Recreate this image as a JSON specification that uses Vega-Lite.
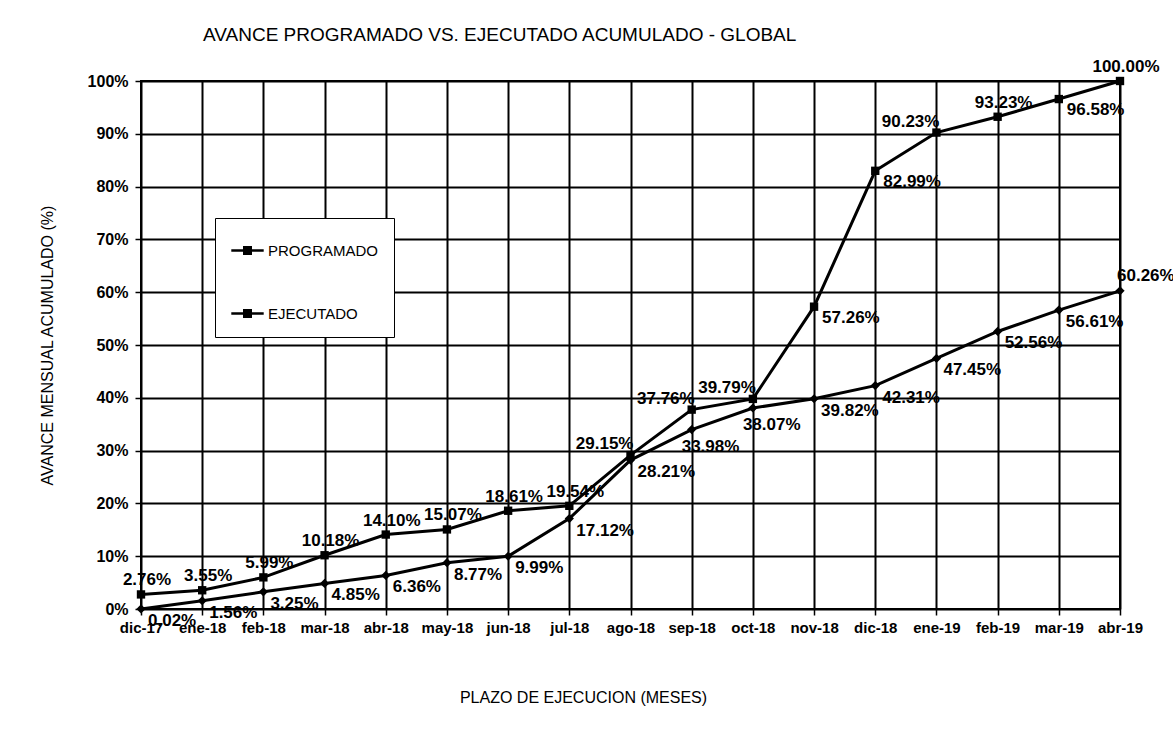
{
  "$schema": "https://vega.github.io/schema/vega-lite/v6.json",
  "width": 979,
  "height": 528,
  "autosize": {"type": "none"},
  "padding": {"left": 141, "top": 81, "right": 53, "bottom": 124},
  "background": "white",
  "title": {
    "text": "AVANCE PROGRAMADO VS. EJECUTADO ACUMULADO - GLOBAL",
    "anchor": "start",
    "frame": "group",
    "dx": 62,
    "offset": 13,
    "fontSize": 19,
    "fontWeight": "normal",
    "color": "black"
  },
  "data": {
    "values": [
      {"mes": "dic-17", "serie": "PROGRAMADO", "valor": 0.0276},
      {"mes": "ene-18", "serie": "PROGRAMADO", "valor": 0.0355},
      {"mes": "feb-18", "serie": "PROGRAMADO", "valor": 0.0599},
      {"mes": "mar-18", "serie": "PROGRAMADO", "valor": 0.1018},
      {"mes": "abr-18", "serie": "PROGRAMADO", "valor": 0.1410},
      {"mes": "may-18", "serie": "PROGRAMADO", "valor": 0.1507},
      {"mes": "jun-18", "serie": "PROGRAMADO", "valor": 0.1861},
      {"mes": "jul-18", "serie": "PROGRAMADO", "valor": 0.1954},
      {"mes": "ago-18", "serie": "PROGRAMADO", "valor": 0.2915},
      {"mes": "sep-18", "serie": "PROGRAMADO", "valor": 0.3776},
      {"mes": "oct-18", "serie": "PROGRAMADO", "valor": 0.3979},
      {"mes": "nov-18", "serie": "PROGRAMADO", "valor": 0.5726},
      {"mes": "dic-18", "serie": "PROGRAMADO", "valor": 0.8299},
      {"mes": "ene-19", "serie": "PROGRAMADO", "valor": 0.9023},
      {"mes": "feb-19", "serie": "PROGRAMADO", "valor": 0.9323},
      {"mes": "mar-19", "serie": "PROGRAMADO", "valor": 0.9658},
      {"mes": "abr-19", "serie": "PROGRAMADO", "valor": 1.0},
      {"mes": "dic-17", "serie": "EJECUTADO", "valor": 0.0002},
      {"mes": "ene-18", "serie": "EJECUTADO", "valor": 0.0156},
      {"mes": "feb-18", "serie": "EJECUTADO", "valor": 0.0325},
      {"mes": "mar-18", "serie": "EJECUTADO", "valor": 0.0485},
      {"mes": "abr-18", "serie": "EJECUTADO", "valor": 0.0636},
      {"mes": "may-18", "serie": "EJECUTADO", "valor": 0.0877},
      {"mes": "jun-18", "serie": "EJECUTADO", "valor": 0.0999},
      {"mes": "jul-18", "serie": "EJECUTADO", "valor": 0.1712},
      {"mes": "ago-18", "serie": "EJECUTADO", "valor": 0.2821},
      {"mes": "sep-18", "serie": "EJECUTADO", "valor": 0.3398},
      {"mes": "oct-18", "serie": "EJECUTADO", "valor": 0.3807},
      {"mes": "nov-18", "serie": "EJECUTADO", "valor": 0.3982},
      {"mes": "dic-18", "serie": "EJECUTADO", "valor": 0.4231},
      {"mes": "ene-19", "serie": "EJECUTADO", "valor": 0.4745},
      {"mes": "feb-19", "serie": "EJECUTADO", "valor": 0.5256},
      {"mes": "mar-19", "serie": "EJECUTADO", "valor": 0.5661},
      {"mes": "abr-19", "serie": "EJECUTADO", "valor": 0.6026}
    ]
  },
  "encoding": {
    "x": {
      "field": "mes",
      "type": "ordinal",
      "sort": ["dic-17", "ene-18", "feb-18", "mar-18", "abr-18", "may-18", "jun-18", "jul-18", "ago-18", "sep-18", "oct-18", "nov-18", "dic-18", "ene-19", "feb-19", "mar-19", "abr-19"],
      "scale": {"type": "point", "padding": 0},
      "axis": {
        "title": "PLAZO DE EJECUCION (MESES)",
        "titleX": 442,
        "titleY": 88,
        "titleAlign": "center",
        "titleBaseline": "middle",
        "titleFontSize": 16,
        "titleFontWeight": "normal",
        "labelAngle": 0,
        "labelFontSize": 15,
        "labelFontWeight": "bold",
        "labelPadding": 5,
        "tickSize": 6,
        "grid": true,
        "domain": false
      }
    },
    "y": {
      "field": "valor",
      "type": "quantitative",
      "scale": {"domain": [0, 1]},
      "axis": {
        "values": [0, 0.1, 0.2, 0.3, 0.4, 0.5, 0.6, 0.7, 0.8, 0.9, 1],
        "format": ".0%",
        "title": "AVANCE MENSUAL ACUMULADO (%)",
        "titleFontSize": 16,
        "titleFontWeight": "normal",
        "titlePadding": 32,
        "labelFontSize": 16,
        "labelFontWeight": "bold",
        "labelPadding": 7,
        "tickSize": 6,
        "grid": true,
        "domain": false
      }
    }
  },
  "layer": [
    {
      "mark": {"type": "line", "strokeWidth": 3},
      "encoding": {
        "color": {
          "field": "serie",
          "type": "nominal",
          "scale": {"domain": ["PROGRAMADO", "EJECUTADO"], "range": ["black", "black"]},
          "legend": {
            "orient": "none",
            "legendX": 74,
            "legendY": 137,
            "title": null,
            "strokeColor": "black",
            "fillColor": "white",
            "padding": 15,
            "rowPadding": 37,
            "symbolType": "M-1,0H1M-0.2,-0.2H0.2V0.2H-0.2Z",
            "symbolSize": 1050,
            "symbolStrokeWidth": 2.5,
            "symbolStrokeColor": "black",
            "symbolFillColor": "black",
            "labelFontSize": 15,
            "labelFontWeight": "normal",
            "labelOffset": 3,
            "labelColor": "black"
          }
        }
      }
    },
    {
      "transform": [{"filter": {"field": "serie", "equal": "PROGRAMADO"}}],
      "mark": {"type": "point", "shape": "square", "filled": true, "color": "black", "opacity": 1, "size": 70}
    },
    {
      "transform": [{"filter": {"field": "serie", "equal": "EJECUTADO"}}],
      "mark": {"type": "point", "shape": "diamond", "filled": true, "color": "black", "opacity": 1, "size": 85}
    },
    {
      "transform": [{"filter": {"and": [{"field": "serie", "equal": "PROGRAMADO"}, {"not": {"field": "mes", "oneOf": ["ago-18", "sep-18", "oct-18", "ene-19", "nov-18", "dic-18", "mar-19"]}}]}}],
      "mark": {"type": "text", "align": "center", "baseline": "middle", "dx": 6, "dy": -14, "fontSize": 17, "fontWeight": "bold", "color": "black"},
      "encoding": {"text": {"field": "valor", "format": ".2%"}}
    },
    {
      "transform": [{"filter": {"and": [{"field": "serie", "equal": "PROGRAMADO"}, {"field": "mes", "oneOf": ["ago-18", "sep-18", "oct-18", "ene-19"]}]}}],
      "mark": {"type": "text", "align": "right", "baseline": "middle", "dx": 3, "dy": -11, "fontSize": 17, "fontWeight": "bold", "color": "black"},
      "encoding": {"text": {"field": "valor", "format": ".2%"}}
    },
    {
      "transform": [{"filter": {"and": [{"field": "serie", "equal": "PROGRAMADO"}, {"field": "mes", "oneOf": ["nov-18", "dic-18", "mar-19"]}]}}],
      "mark": {"type": "text", "align": "left", "baseline": "middle", "dx": 8, "dy": 11, "fontSize": 17, "fontWeight": "bold", "color": "black"},
      "encoding": {"text": {"field": "valor", "format": ".2%"}}
    },
    {
      "transform": [{"filter": {"and": [{"field": "serie", "equal": "EJECUTADO"}, {"not": {"field": "mes", "oneOf": ["sep-18", "oct-18", "abr-19"]}}]}}],
      "mark": {"type": "text", "align": "left", "baseline": "middle", "dx": 7, "dy": 12, "fontSize": 17, "fontWeight": "bold", "color": "black"},
      "encoding": {"text": {"field": "valor", "format": ".2%"}}
    },
    {
      "transform": [{"filter": {"and": [{"field": "serie", "equal": "EJECUTADO"}, {"field": "mes", "oneOf": ["sep-18", "oct-18"]}]}}],
      "mark": {"type": "text", "align": "left", "baseline": "middle", "dx": -10, "dy": 17, "fontSize": 17, "fontWeight": "bold", "color": "black"},
      "encoding": {"text": {"field": "valor", "format": ".2%"}}
    },
    {
      "transform": [{"filter": {"and": [{"field": "serie", "equal": "EJECUTADO"}, {"field": "mes", "equal": "abr-19"}]}}],
      "mark": {"type": "text", "align": "left", "baseline": "middle", "dx": -3, "dy": -15, "fontSize": 17, "fontWeight": "bold", "color": "black"},
      "encoding": {"text": {"field": "valor", "format": ".2%"}}
    }
  ],
  "config": {
    "font": "Liberation Sans, Arial, sans-serif",
    "view": {"stroke": "black", "strokeWidth": 2},
    "axis": {
      "gridColor": "black",
      "gridWidth": 2,
      "gridOpacity": 1,
      "tickColor": "black",
      "tickWidth": 1.5,
      "labelColor": "black",
      "titleColor": "black"
    }
  }
}
